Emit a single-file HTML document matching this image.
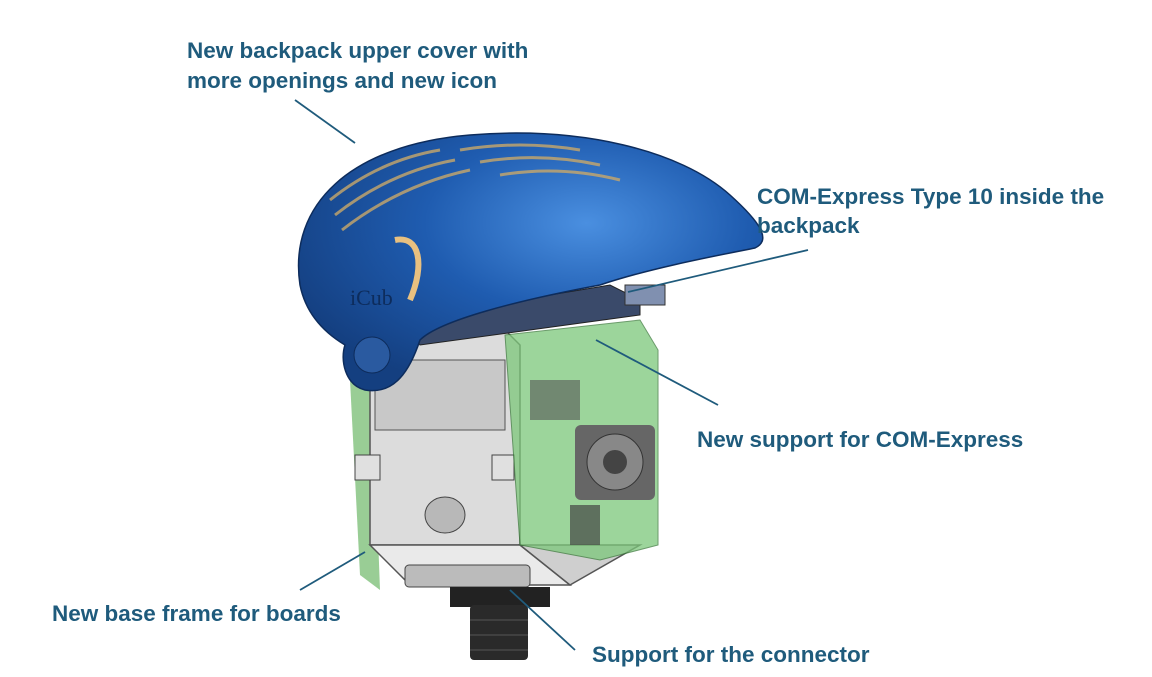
<!DOCTYPE html>
<html><head><meta charset="utf-8"><style>
html,body{margin:0;padding:0;background:#fff;}
svg{display:block}
text{font-family:"Liberation Sans",sans-serif;font-weight:bold;font-size:22.5px;fill:#1f5b7c}
</style></head><body>
<svg width="1152" height="677" viewBox="0 0 1152 677" xmlns="http://www.w3.org/2000/svg">
<defs>
<radialGradient id="blue" cx="0.62" cy="0.35" r="0.7">
<stop offset="0" stop-color="#4a8fe0"/><stop offset="0.5" stop-color="#1f5cb0"/><stop offset="1" stop-color="#143f80"/>
</radialGradient>
</defs>
<polygon points="350,380 372,375 380,590 360,575" fill="#7fc07a" opacity="0.8"/>
<polygon points="370,330 505,330 520,345 520,545 370,545" fill="#dcdcdc" stroke="#555" stroke-width="1.5"/>
<polygon points="370,545 520,545 570,585 410,585" fill="#eaeaea" stroke="#555" stroke-width="1.5"/>
<polygon points="520,545 640,545 570,585" fill="#cfcfcf" stroke="#555" stroke-width="1.5"/>
<rect x="375" y="360" width="130" height="70" fill="#c8c8c8" stroke="#555"/>
<ellipse cx="445" cy="515" rx="20" ry="18" fill="#b8b8b8" stroke="#444"/>
<rect x="355" y="455" width="25" height="25" fill="#e0e0e0" stroke="#444"/>
<rect x="492" y="455" width="22" height="25" fill="#e0e0e0" stroke="#444"/>
<polygon points="505,335 640,320 658,350 658,545 600,560 520,545" fill="#7cc77a" opacity="0.75" stroke="#3a7a3a"/>
<rect x="530" y="380" width="50" height="40" fill="#555" opacity="0.6"/>
<rect x="575" y="425" width="80" height="75" rx="6" fill="#666"/>
<circle cx="615" cy="462" r="28" fill="#888" stroke="#333"/>
<circle cx="615" cy="462" r="12" fill="#444"/>
<rect x="570" y="505" width="30" height="40" fill="#444" opacity="0.7"/>
<rect x="405" y="565" width="125" height="22" rx="4" fill="#bbb" stroke="#444"/>
<rect x="450" y="587" width="100" height="20" fill="#222"/>
<rect x="470" y="605" width="58" height="55" rx="4" fill="#2a2a2a"/>
<line x1="470" y1="620" x2="528" y2="620" stroke="#555"/>
<line x1="470" y1="635" x2="528" y2="635" stroke="#555"/>
<line x1="470" y1="650" x2="528" y2="650" stroke="#555"/>
<polygon points="400,320 610,285 640,300 640,315 420,345" fill="#3a4a6a" stroke="#222"/>
<rect x="625" y="285" width="40" height="20" fill="#8090b0" stroke="#333"/>
<path d="M300,285 C288,205 350,145 470,135 C580,126 680,150 730,195 C760,222 772,240 755,248 C720,255 650,268 600,285 C520,300 440,320 420,340 C410,370 395,395 365,390 C345,385 340,360 345,345 C320,330 305,310 300,285 Z" fill="url(#blue)" stroke="#0d2c5c" stroke-width="1.5"/>
<g stroke="#c9a86a" stroke-width="3" fill="none" opacity="0.8">
<path d="M330,200 Q380,160 440,150"/><path d="M335,215 Q390,172 455,160"/>
<path d="M342,230 Q400,185 470,170"/><path d="M460,150 Q520,140 580,150"/>
<path d="M480,162 Q540,152 600,165"/><path d="M500,175 Q560,165 620,180"/>
</g>
<path d="M395,240 C420,235 425,265 410,300" stroke="#e8c080" stroke-width="6" fill="none"/>
<text x="350" y="305" style="font-size:22px;fill:#0d2c5c;font-family:'Liberation Serif',serif;font-weight:normal">iCub</text>
<circle cx="372" cy="355" r="18" fill="#2a5aa0" stroke="#0d2c5c"/>
<g stroke="#1f5b7c" stroke-width="1.8">
<line x1="295" y1="100" x2="355" y2="143"/>
<line x1="808" y1="250" x2="628" y2="292"/>
<line x1="718" y1="405" x2="596" y2="340"/>
<line x1="300" y1="590" x2="365" y2="552"/>
<line x1="575" y1="650" x2="510" y2="590"/>
</g>
<text x="187" y="58">New backpack upper cover with</text>
<text x="187" y="88">more openings and new icon</text>
<text x="757" y="204">COM-Express Type 10 inside the</text>
<text x="757" y="233">backpack</text>
<text x="697" y="447">New support for COM-Express</text>
<text x="52" y="621">New base frame for boards</text>
<text x="592" y="662">Support for the connector</text>
</svg>
</body></html>
